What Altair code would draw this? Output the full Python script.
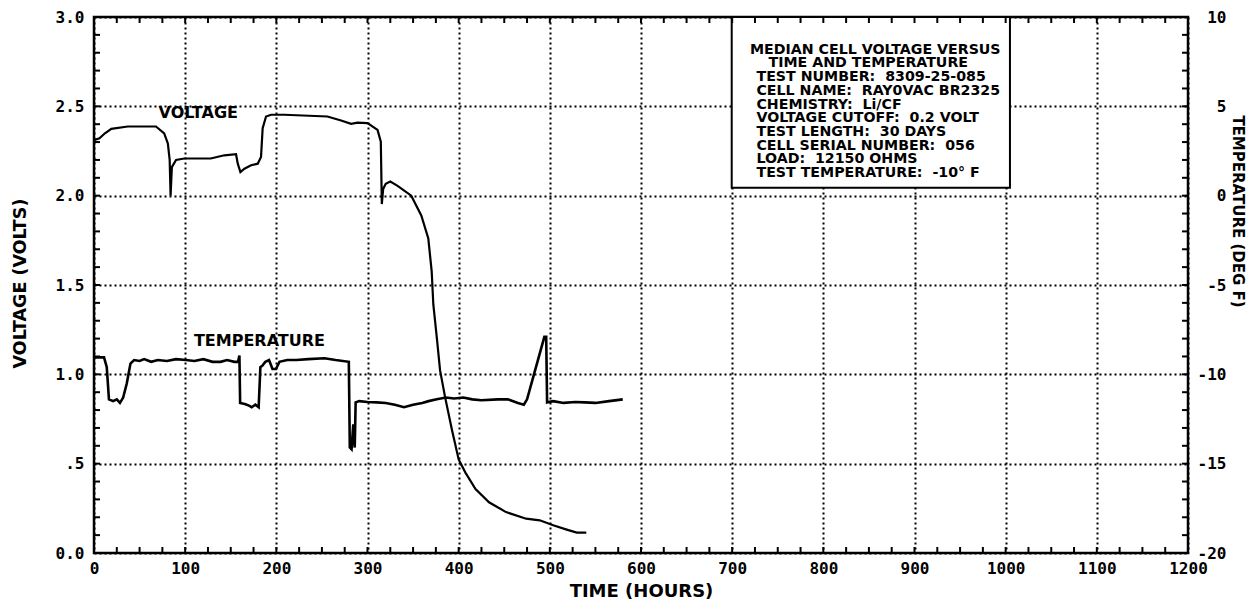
import altair as alt
import pandas as pd

# ---------------- data ----------------
volt_hours = [0, 6, 12, 19, 37, 68, 77, 81, 83, 84, 85.4, 90, 99, 128, 143, 155.8, 157.7, 160.6, 165, 172.3,
              179.6, 183.2, 185, 188.7, 194.2, 208.8, 256, 271, 282, 289, 300, 311, 314.6, 315.7, 317.2, 320,
              325, 333, 348, 359, 366.7, 370.4, 372.2, 376, 379.6, 385, 392.6, 400, 407.4, 418.5, 433.3, 451.9,
              474, 488.9, 503.7, 518.5, 529.6, 540]
volt_values = [2.311, 2.321, 2.349, 2.374, 2.387, 2.387, 2.349, 2.292, 2.2, 2.0, 2.16, 2.2, 2.208, 2.208, 2.226,
               2.232, 2.179, 2.132, 2.151, 2.17, 2.179, 2.217, 2.377, 2.443, 2.453, 2.453, 2.443, 2.421, 2.402,
               2.409, 2.406, 2.368, 2.302, 1.953, 2.038, 2.066, 2.079, 2.055, 2.0, 1.889, 1.76, 1.576, 1.391,
               1.207, 1.022, 0.875, 0.69, 0.524, 0.45, 0.358, 0.284, 0.229, 0.192, 0.183, 0.155, 0.131, 0.114,
               0.114]

temp_hours = [0, 11, 14, 16.4, 21, 25, 28.5, 32, 36, 40, 44, 50, 55, 62.7, 70, 80, 90, 100.8, 110, 120,
              130, 138.8, 146, 154, 158, 159.5, 160.3, 165.4, 170, 173, 177, 180.6, 182.5, 185, 188, 192, 195.8,
              199.6, 203.4, 212, 222, 235, 252.8, 265, 279.5, 280.6, 282.5, 284.4, 286, 287, 290.9, 300, 309.9,
              320, 330, 340, 350, 360, 367, 376, 386, 395, 405, 415, 425, 443, 454, 465, 471.5, 475, 481, 488.6,
              494, 496, 497, 503.8, 515, 528, 538, 550, 565, 580]
temp_values = [-9.05, -9.05, -9.6, -11.4, -11.5, -11.4, -11.6, -11.3, -10.5, -9.4, -9.2, -9.25, -9.15, -9.3,
               -9.2, -9.25, -9.15, -9.2, -9.25, -9.15, -9.3, -9.3, -9.2, -9.3, -9.3, -8.95, -11.6, -11.66, -11.75,
               -11.84, -11.7, -11.84, -9.6, -9.5, -9.3, -9.2, -9.7, -9.7, -9.3, -9.2, -9.2, -9.15, -9.1, -9.2,
               -9.3, -14.1, -14.2, -12.8, -14.1, -11.57, -11.5, -11.55, -11.57, -11.6, -11.7, -11.84, -11.7,
               -11.6, -11.5, -11.4, -11.3, -11.35, -11.3, -11.4, -11.45, -11.4, -11.4, -11.6, -11.7, -11.4,
               -10.3, -8.9, -7.9, -7.9, -11.57, -11.5, -11.6, -11.55, -11.57, -11.6, -11.5, -11.4]

x_ticks = list(range(0, 1201, 100))
v_ticks = [0, 0.5, 1.0, 1.5, 2.0, 2.5, 3.0]
t_ticks = [-20, -15, -10, -5, 0, 5, 10]
minor_hours = list(range(0, 1201, 25))
minor_volts = [round(0.1 * i, 1) for i in range(0, 31)]
minor_temps = list(range(-20, 11))

box_lines = [
    "MEDIAN CELL VOLTAGE VERSUS",
    "TIME AND TEMPERATURE",
    "TEST NUMBER:  8309-25-085",
    "CELL NAME:  RAY0VAC BR2325",
    "CHEMISTRY:  Li/CF",
    "VOLTAGE CUTOFF:  0.2 VOLT",
    "TEST LENGTH:  30 DAYS",
    "CELL SERIAL NUMBER:  056",
    "LOAD:  12150 OHMS",
    "TEST TEMPERATURE:  -10\u00b0 F",
]
box_indent = [0, 2, 0.7, 0.7, 0.7, 0.7, 0.7, 0.7, 0.7, 0.7]   # in character widths
curve_labels = ["VOLTAGE", "TEMPERATURE"]
curve_label_hours = [114.4, 181.5]
curve_label_volts = [2.465, 1.186]

# ---------------- layout ----------------
W, H = 1094, 536
FONT = "DejaVu Sans"
MONO = "DejaVu Sans Mono"
HOURS_PER_CHAR = 10.2

xs = alt.Scale(domain=[0, 1200], nice=False, zero=False)
vs = alt.Scale(domain=[0, 3], nice=False, zero=False)
ts = alt.Scale(domain=[-20, 10], nice=False, zero=False)

volt_df = pd.DataFrame({"h": volt_hours, "v": volt_values})
temp_df = pd.DataFrame({"h": temp_hours, "t": temp_values})

box_df = pd.DataFrame({"h": [699.5], "h2": [1004.7], "v": [2.044], "v2": [3.0]})
line_top, line_step = 2.817, 0.0767
box_text_df = pd.DataFrame({
    "text": [s.replace(" ", "\u00a0") for s in box_lines],
    "h": [719.5 + k * HOURS_PER_CHAR for k in box_indent],
    "v": [line_top - i * line_step for i in range(len(box_lines))],
})
label_df = pd.DataFrame({"text": curve_labels, "h": curve_label_hours, "v": curve_label_volts})

x_axis = alt.Axis(values=x_ticks, title="TIME (HOURS)", orient="bottom", grid=True, ticks=False,
                  domain=False, labelPadding=7, labelFlush=False, labelOverlap=False,
                  labelExpr="'' + datum.value", titlePadding=6, titleFontSize=18)

v_axis = alt.Axis(values=v_ticks, orient="left", title="VOLTAGE (VOLTS)", grid=True, ticks=False,
                  domain=False, labelPadding=10, labelFlush=False, labelOverlap=False,
                  labelExpr="datum.value == 0.5 ? '.5' : format(datum.value, '.1f')",
                  titleAngle=270, titleX=-74, titleY=266, titleAlign="center", titleBaseline="middle",
                  titleFontSize=17.5)

t_axis = alt.Axis(values=t_ticks, orient="right", title="TEMPERATURE (DEG F)", grid=False, ticks=False,
                  tickSize=0, domain=False, labelAlign="right", labelPadding=38, labelFlush=False,
                  labelOverlap=False, labelExpr="'' + datum.value",
                  titleAngle=90, titleX=49, titleY=194, titleAlign="center", titleBaseline="middle",
                  titleFontSize=15)

# layers that share the voltage scale (axis given once, on the first layer)
volt_line = alt.Chart(volt_df).mark_line(color="black", strokeWidth=2.2).encode(
    x=alt.X("h:Q", scale=xs, axis=x_axis),
    y=alt.Y("v:Q", scale=vs, axis=v_axis),
    order="h:Q")

box = alt.Chart(box_df).mark_rect(fill="white", stroke="black", strokeWidth=2).encode(
    x=alt.X("h:Q", scale=xs), x2="h2:Q",
    y=alt.Y("v:Q", scale=vs), y2="v2:Q")

box_text = alt.Chart(box_text_df).mark_text(
    font=FONT, fontWeight="bold", fontSize=14.2, align="left", baseline="middle", color="black").encode(
    x=alt.X("h:Q", scale=xs),
    y=alt.Y("v:Q", scale=vs),
    text="text:N")

curve_text = alt.Chart(label_df).mark_text(
    font=FONT, fontWeight="bold", fontSize=16, align="center", baseline="middle", color="black").encode(
    x=alt.X("h:Q", scale=xs),
    y=alt.Y("v:Q", scale=vs),
    text="text:N")

mh_df = pd.DataFrame({"h": minor_hours})
mv_df = pd.DataFrame({"v": minor_volts})
mt_df = pd.DataFrame({"t": minor_temps})

tick_bottom = alt.Chart(mh_df).mark_rule(color="black", strokeWidth=2).encode(
    x=alt.X("h:Q", scale=xs), y=alt.value(H), y2=alt.value(H - 6))
tick_top = alt.Chart(mh_df).mark_rule(color="black", strokeWidth=2).encode(
    x=alt.X("h:Q", scale=xs), y=alt.value(0), y2=alt.value(6))
tick_left = alt.Chart(mv_df).mark_rule(color="black", strokeWidth=2).encode(
    y=alt.Y("v:Q", scale=vs), x=alt.value(0), x2=alt.value(6))

# layers on the temperature scale
temp_line = alt.Chart(temp_df).mark_line(color="black", strokeWidth=2.6).encode(
    x=alt.X("h:Q", scale=xs),
    y=alt.Y("t:Q", scale=ts, axis=t_axis),
    order="h:Q")
tick_right = alt.Chart(mt_df).mark_rule(color="black", strokeWidth=2).encode(
    y=alt.Y("t:Q", scale=ts), x=alt.value(W), x2=alt.value(W - 6))

volt_layer = alt.layer(volt_line, box, box_text, curve_text, tick_bottom, tick_top, tick_left)
temp_layer = alt.layer(temp_line, tick_right)

chart = alt.layer(volt_layer, temp_layer).resolve_scale(y="independent").properties(
    width=W, height=H,
    padding={"left": 86, "top": 9, "right": 60, "bottom": 47},
    autosize=alt.AutoSizeParams(type="none"),
    background="white",
).configure_view(
    stroke="black", strokeWidth=2.5
).configure_axis(
    labelFont=MONO, labelFontWeight="bold", labelFontSize=16, labelColor="black",
    titleFont=FONT, titleFontWeight="bold", titleColor="black",
    gridColor="black", gridDash=[2, 3], gridWidth=2, gridOpacity=1,
)

chart.save("out.html", embed_options={"renderer": "svg", "actions": False})
